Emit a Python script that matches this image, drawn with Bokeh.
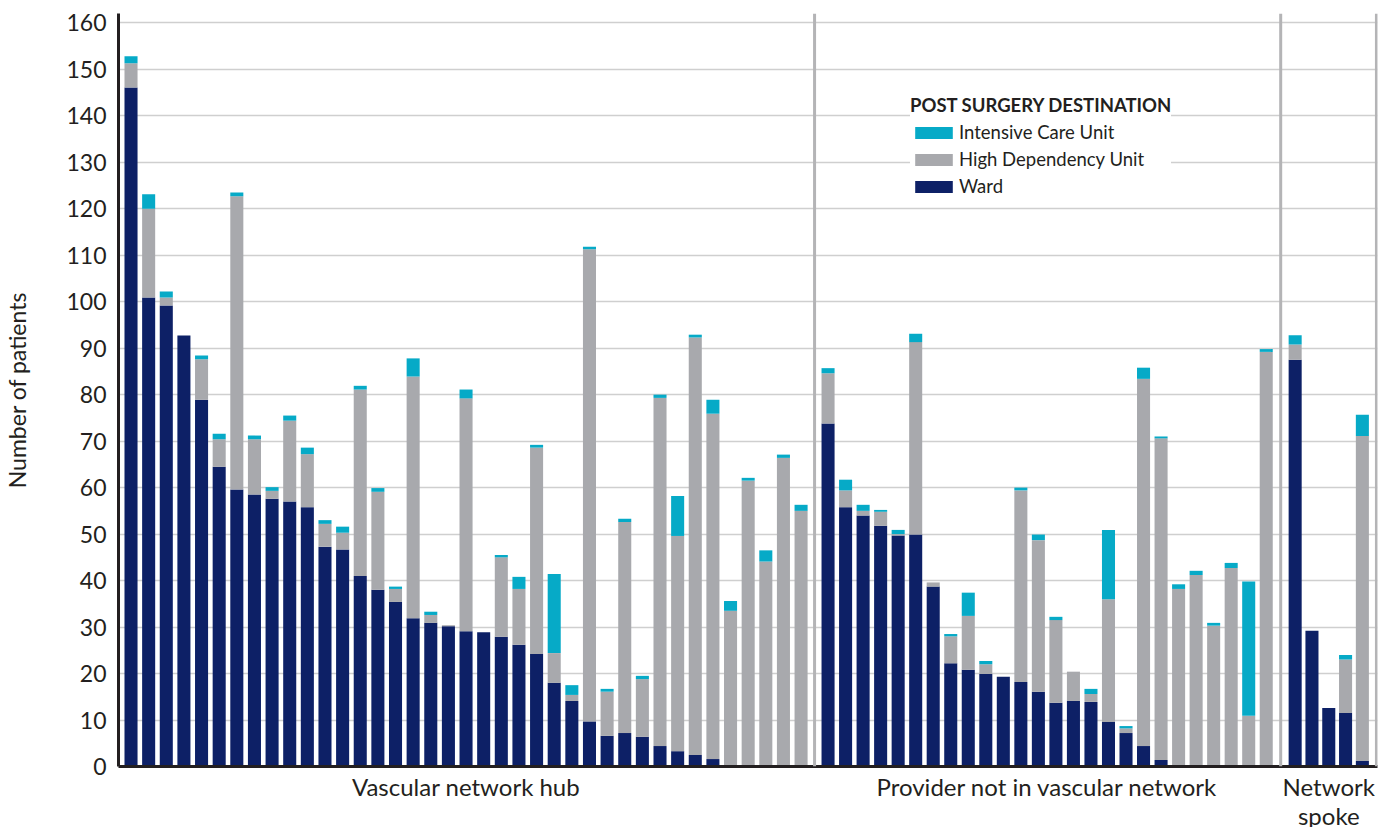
from bokeh.plotting import figure
from bokeh.models import (ColumnDataSource, Range1d, FixedTicker, Span, Legend,
                          LegendItem, CustomJSTickFormatter)
from bokeh.embed import file_html
from bokeh.resources import INLINE

# ---------------- data ----------------
groups = ["Vascular network hub", "Provider not in vascular network", "Network\nspoke"]

hub_ward = [146.1, 100.9, 99.2, 92.7, 78.9, 64.5, 59.6, 58.5, 57.6, 57.0, 55.8, 47.3, 46.7,
            41.0, 38.0, 35.4, 31.9, 30.9, 30.2, 29.1, 28.9, 27.9, 26.2, 24.2, 18.0, 14.1,
            9.7, 6.6, 7.2, 6.4, 4.4, 3.3, 2.5, 1.6, 0, 0, 0, 0, 0]
hub_hdu = [5.2, 19.1, 1.7, 0, 8.7, 5.9, 63.1, 11.9, 1.7, 17.4, 11.4, 4.9, 3.6,
           40.1, 21.1, 2.8, 52.0, 1.7, 0.2, 50.1, 0, 17.1, 12.0, 44.4, 6.4, 1.3,
           101.6, 9.5, 45.4, 12.4, 74.9, 46.3, 89.8, 74.3, 33.5, 61.5, 44.1, 66.4, 55.0]
hub_icu = [1.5, 3.1, 1.3, 0, 0.8, 1.2, 0.8, 0.8, 0.8, 1.1, 1.4, 0.8, 1.3,
           0.8, 0.8, 0.5, 3.9, 0.7, 0, 1.9, 0, 0.5, 2.6, 0.6, 17.0, 2.1,
           0.5, 0.6, 0.7, 0.7, 0.7, 8.6, 0.6, 3.0, 2.1, 0.6, 2.4, 0.7, 1.3]

prov_ward = [73.8, 55.8, 54.0, 51.8, 49.7, 49.9, 38.7, 22.2, 20.8, 19.9, 19.3, 18.2, 16.1,
             13.7, 14.1, 13.9, 9.6, 7.2, 4.4, 1.4, 0, 0, 0, 0, 0, 0]
prov_hdu = [10.8, 3.6, 1.0, 3.0, 0.3, 41.4, 0.9, 5.8, 11.6, 2.1, 0, 41.2, 32.6,
            17.8, 6.3, 1.7, 26.4, 1.0, 79.0, 69.2, 38.2, 41.2, 30.3, 42.7, 10.9, 89.2]
prov_icu = [1.1, 2.3, 1.3, 0.4, 0.9, 1.8, 0, 0.5, 5.0, 0.7, 0, 0.6, 1.2,
            0.7, 0, 1.1, 14.9, 0.5, 2.4, 0.4, 1.0, 0.9, 0.6, 1.1, 28.9, 0.6]

spoke_ward = [87.5, 29.2, 12.6, 11.5, 1.2]
spoke_hdu = [3.3, 0, 0, 11.5, 69.9]
spoke_icu = [2.0, 0, 0, 1.0, 4.6]

series = ["Ward", "High Dependency Unit", "Intensive Care Unit"]
colors = ["#0d2066", "#a8a9ad", "#06aac7"]
y_ticks = list(range(0, 161, 10))

# ---------------- layout constants (x in slot units) ----------------
group_start = [0.71, 40.24, 66.73]
group_pitch = [1.0, 0.994, 0.953]
bar_width = 0.74
x_end = 71.40
TEXT = "#231f20"
FONT = "Lato"

wards = [hub_ward, prov_ward, spoke_ward]
hdus = [hub_hdu, prov_hdu, spoke_hdu]
icus = [hub_icu, prov_icu, spoke_icu]

xs, w_all, h_all, i_all = [], [], [], []
group_pos = []
for g in range(3):
    pos = [group_start[g] + group_pitch[g] * k for k in range(len(wards[g]))]
    group_pos.append(pos)
    xs += pos
    w_all += wards[g]
    h_all += hdus[g]
    i_all += icus[g]
group_centers = [(gp[0] + gp[-1]) / 2 for gp in group_pos]

src = ColumnDataSource(dict(x=xs, ward=w_all, hdu=h_all, icu=i_all))

p = figure(frame_width=1259, frame_height=753, output_backend="svg", toolbar_location=None,
           x_range=Range1d(0, x_end), y_range=Range1d(0, 162),
           min_border_left=117, min_border_right=4, min_border_top=13, min_border_bottom=20)
p.outline_line_color = None
p.background_fill_color = "white"

rs = p.vbar_stack(["ward", "hdu", "icu"], x="x", width=bar_width, color=colors,
                  line_width=0, source=src)

# grid
p.xgrid.grid_line_color = None
p.ygrid.ticker = FixedTicker(ticks=y_ticks)
p.ygrid.grid_line_color = "#cfcfcf"
p.ygrid.grid_line_width = 1.5
p.ygrid.level = "underlay"

# y axis
p.yaxis.ticker = FixedTicker(ticks=y_ticks)
p.yaxis.axis_line_color = TEXT
p.yaxis.axis_line_width = 3
p.yaxis.major_tick_line_color = None
p.yaxis.minor_tick_line_color = None
p.yaxis.major_tick_out = 0
p.yaxis.major_tick_in = 0
p.yaxis.major_label_standoff = 12
p.yaxis.major_label_text_font = FONT
p.yaxis.major_label_text_font_size = "23px"
p.yaxis.major_label_text_color = TEXT
p.yaxis.axis_label = "Number of patients"
p.yaxis.axis_label_text_font = FONT
p.yaxis.axis_label_text_font_size = "23px"
p.yaxis.axis_label_text_font_style = "normal"
p.yaxis.axis_label_text_color = TEXT
p.yaxis.axis_label_standoff = 32

# x axis: group names as tick labels at group centres
p.xaxis.ticker = FixedTicker(ticks=group_centers)
p.xaxis.formatter = CustomJSTickFormatter(args=dict(names=groups), code="return names[index];")
p.xaxis.axis_line_color = TEXT
p.xaxis.axis_line_width = 3
p.xaxis.major_tick_line_color = None
p.xaxis.minor_tick_line_color = None
p.xaxis.major_tick_out = 0
p.xaxis.major_tick_in = 0
p.xaxis.major_label_standoff = 5
p.xaxis.major_label_text_font = FONT
p.xaxis.major_label_text_font_size = "24px"
p.xaxis.major_label_text_color = TEXT
p.xaxis.major_label_text_line_height = 1.0

# group dividers and right border
for g in range(2):
    loc = (group_pos[g][-1] + group_pos[g + 1][0]) / 2
    p.add_layout(Span(location=loc, dimension="height", line_color="#b4b4b6", line_width=3))
p.add_layout(Span(location=x_end - 0.06, dimension="height", line_color="#b4b4b6", line_width=3))

# legend (ICU, HDU, Ward)
legend = Legend(items=[LegendItem(label=series[2], renderers=[rs[2]]),
                       LegendItem(label=series[1], renderers=[rs[1]]),
                       LegendItem(label=series[0], renderers=[rs[0]])],
                location=(792, 569), orientation="vertical")
legend.title = "POST SURGERY DESTINATION"
legend.title_text_font = FONT
legend.title_text_font_style = "bold"
legend.title_text_font_size = "18.5px"
legend.title_text_color = TEXT
legend.title_standoff = 5
legend.label_text_font = FONT
legend.label_text_font_size = "18.5px"
legend.label_text_color = TEXT
legend.glyph_width = 47
legend.glyph_height = 15
legend.label_standoff = 2
legend.label_height = 22
legend.spacing = 5
legend.padding = 14
legend.margin = 0
legend.border_line_color = None
legend.background_fill_color = "white"
legend.background_fill_alpha = 1.0
p.add_layout(legend, "center")

open("out.html", "w").write(file_html(p, INLINE))
